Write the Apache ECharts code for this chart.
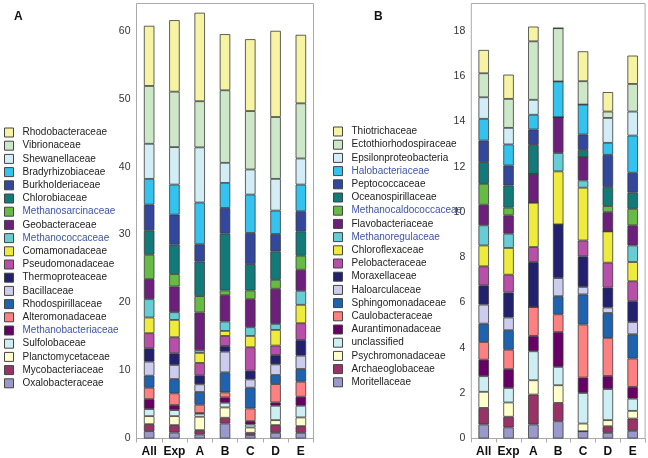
<!DOCTYPE html>
<html>
<head>
<meta charset="utf-8">
<script src="https://cdn.jsdelivr.net/npm/echarts@6/dist/echarts.min.js"></script>
<style>
html, body { margin: 0; padding: 0; background: #fff; }
#chart { width: 648px; height: 458px; }
</style>
</head>
<body>
<div id="chart"></div>
<script>
/* data; families listed bottom of stack first */
var categories = ['All', 'Exp', 'A', 'B', 'C', 'D', 'E'];

var familiesA = [
    'Oxalobacteraceae', 'Mycobacteriaceae', 'Planctomycetaceae', 'Sulfolobaceae',
    'Methanobacteriaceae', 'Alteromonadaceae', 'Rhodospirillaceae', 'Bacillaceae',
    'Thermoproteaceae', 'Pseudomonadaceae', 'Comamonadaceae', 'Methanococcaceae',
    'Geobacteraceae', 'Methanosarcinaceae', 'Chlorobiaceae', 'Burkholderiaceae',
    'Bradyrhizobiaceae', 'Shewanellaceae', 'Vibrionaceae', 'Rhodobacteraceae'
];
var valuesA = [
    [1.08, 0.88, 0.59, 2.21, 0.49, 0.84, 0.84],
    [1.03, 1.09, 0.64, 0.84, 0.35, 1.13, 0.98],
    [1.18, 1.32, 1.97, 1.52, 0.78, 0.73, 1.28],
    [1.04, 0.89, 0.45, 0.69, 0.44, 2.12, 1.72],
    [1.47, 0.74, 0.10, 0.79, 0.50, 0.49, 1.33],
    [1.67, 1.72, 1.22, 0.73, 1.86, 2.70, 2.21],
    [1.77, 2.11, 1.87, 2.95, 3.05, 1.33, 1.87],
    [2.07, 2.07, 1.13, 3.05, 1.23, 1.57, 1.96],
    [1.96, 1.72, 1.33, 0.84, 1.28, 1.38, 2.31],
    [2.22, 2.36, 1.82, 1.47, 3.44, 1.38, 2.46],
    [2.31, 2.55, 1.48, 0.74, 1.67, 2.31, 2.71],
    [2.70, 1.13, 0.39, 1.38, 1.28, 0.88, 2.06],
    [2.95, 3.79, 5.55, 3.88, 4.13, 5.17, 3.10],
    [3.59, 1.82, 2.41, 0.69, 1.28, 1.32, 2.06],
    [3.59, 4.33, 5.07, 8.36, 3.88, 4.18, 3.59],
    [3.78, 4.42, 2.55, 3.78, 4.58, 2.56, 2.95],
    [3.79, 4.42, 6.15, 3.69, 5.65, 3.44, 3.93],
    [5.16, 5.51, 8.11, 2.95, 3.69, 4.67, 3.84],
    [8.51, 8.16, 6.79, 10.67, 8.60, 9.10, 8.11],
    [8.85, 10.52, 13.02, 8.26, 10.57, 12.68, 10.08]
];

var familiesB = [
    'Moritellaceae', 'Archaeoglobaceae', 'Psychromonadaceae', 'unclassified',
    'Aurantimonadaceae', 'Caulobacteraceae', 'Sphingomonadaceae', 'Haloarculaceae',
    'Moraxellaceae', 'Pelobacteraceae', 'Chloroflexaceae', 'Methanoregulaceae',
    'Flavobacteriaceae', 'Methanocaldococcaceae', 'Oceanospirillaceae', 'Peptococcaceae',
    'Halobacteriaceae', 'Epsilonproteobacteria', 'Ectothiorhodospiraceae', 'Thiotrichaceae'
];
var valuesB = [
    [0.62, 0.49, 0.62, 0.76, 0.32, 0.25, 0.34],
    [0.73, 0.47, 1.32, 0.81, 0, 0.29, 0.54],
    [0.71, 0.63, 0.63, 0.78, 0.34, 0.27, 0.34],
    [0.69, 0.64, 1.28, 0.81, 1.35, 1.37, 0.54],
    [0.73, 0.83, 0.68, 1.54, 0.68, 0.58, 0.52],
    [0.78, 0.86, 1.28, 0.78, 2.34, 1.68, 1.25],
    [0.81, 0.86, 0, 0.80, 1.33, 1.10, 1.07],
    [0.84, 0.56, 0, 0.80, 0.33, 0.24, 0.54],
    [0.85, 1.10, 1.98, 2.37, 1.35, 0.88, 0.92],
    [0.84, 0.79, 0.66, 0, 0.70, 1.10, 0.88],
    [0.92, 1.18, 1.96, 2.34, 2.33, 1.38, 0.85],
    [0.89, 0.63, 0, 0.81, 0.32, 0, 0.73],
    [0.91, 0.81, 1.27, 1.58, 1.03, 0.85, 0.89],
    [0.92, 0.34, 0, 0, 0, 0.27, 0.73],
    [0.96, 0.98, 1.28, 0, 0.32, 0.84, 0.71],
    [0.95, 0.88, 0.68, 0, 0.68, 1.42, 0.88],
    [0.96, 0.93, 0.65, 1.58, 1.32, 0.53, 1.64],
    [0.95, 0.73, 0.66, 0, 0, 1.10, 1.06],
    [1.06, 1.28, 2.58, 2.35, 1.03, 0.28, 1.22],
    [1.03, 1.07, 0.65, 0, 1.32, 0.86, 1.25]
];

// archaea names are written in blue in the legends
var blueNames = [
    'Methanosarcinaceae', 'Methanococcaceae', 'Methanobacteriaceae',
    'Halobacteriaceae', 'Methanocaldococcaceae', 'Methanoregulaceae'
];

var colors = [
    '#9999cc', '#993366', '#ffffcc', '#cdeef2', '#660066',
    '#ff8080', '#1f62b0', '#ccccee', '#212170', '#b84fa8',
    '#efeb3c', '#66cdd6', '#6c207b', '#66bb44', '#127a78',
    '#33479d', '#33c3ee', '#d2edf5', '#cde7c9', '#f6f4a2'
];

var font = 'Liberation Sans, Arial, sans-serif';

function buildSeries(families, values, idx) {
    return families.map(function(name, i) {
        return {
            name: name,
            type: 'bar',
            stack: 'panel' + idx,
            xAxisIndex: idx,
            yAxisIndex: idx,
            barWidth: 10.5,
            data: values[i],
            itemStyle: {
                color: colors[i],
                borderColor: '#3a3a3a',
                borderWidth: 0.8
            },
            emphasis: { disabled: true }
        };
    });
}

function buildLegend(families, left, top) {
    var items = families.slice().reverse().map(function(name) {
        var item = { name: name };
        if (blueNames.indexOf(name) >= 0) {
            item.textStyle = { color: '#3d53a6' };
        }
        return item;
    });
    return {
        orient: 'vertical',
        left: left,
        top: top,
        padding: 0,
        icon: 'rect',
        itemWidth: 9,
        itemHeight: 9,
        itemGap: 2.2,
        selectedMode: false,
        data: items,
        itemStyle: { borderColor: '#444444', borderWidth: 1 },
        textStyle: {
            fontSize: 10,
            lineHeight: 11,
            color: '#222',
            fontFamily: font,
            padding: [0, 0, 0, 4]
        }
    };
}

function xAxisFor(idx) {
    return {
        type: 'category',
        gridIndex: idx,
        data: categories,
        axisLine: { lineStyle: { color: '#aaaaaa' } },
        axisTick: { show: true, length: 4, lineStyle: { color: '#aaaaaa' } },
        axisLabel: {
            interval: 0,
            margin: 7,
            fontSize: 12,
            fontWeight: 'bold',
            color: '#111',
            fontFamily: font
        }
    };
}

function yAxisFor(idx, max, step) {
    return {
        type: 'value',
        gridIndex: idx,
        min: 0,
        max: max,
        interval: step,
        splitLine: { show: false },
        axisLine: { show: false },
        axisTick: { show: false },
        axisLabel: {
            margin: 6,
            fontSize: 10.5,
            color: '#333',
            fontFamily: font,
            formatter: function(v) {
                return v % step === 0 ? v : '';
            }
        }
    };
}

var chart = echarts.init(document.getElementById('chart'), null, { renderer: 'canvas' });
var option = {
    animation: false,
    title: [
        { text: 'A', left: 9, top: 6, textStyle: { fontSize: 12, fontWeight: 'bold', color: '#111', fontFamily: font } },
        { text: 'B', left: 369, top: 6, textStyle: { fontSize: 12, fontWeight: 'bold', color: '#111', fontFamily: font } }
    ],
    legend: [
        buildLegend(familiesA, 4, 127),
        buildLegend(familiesB, 333, 126)
    ],
    grid: [
        { left: 136.5, top: 3.5, width: 177, height: 435, show: true, borderColor: '#aaaaaa', borderWidth: 1 },
        { left: 471.3, top: 3.5, width: 173.8, height: 435, show: true, borderColor: '#aaaaaa', borderWidth: 1 }
    ],
    xAxis: [xAxisFor(0), xAxisFor(1)],
    yAxis: [yAxisFor(0, 64, 10), yAxisFor(1, 19.2, 2)],
    series: buildSeries(familiesA, valuesA, 0).concat(buildSeries(familiesB, valuesB, 1))
};
chart.setOption(option);
</script>
</body>
</html>
